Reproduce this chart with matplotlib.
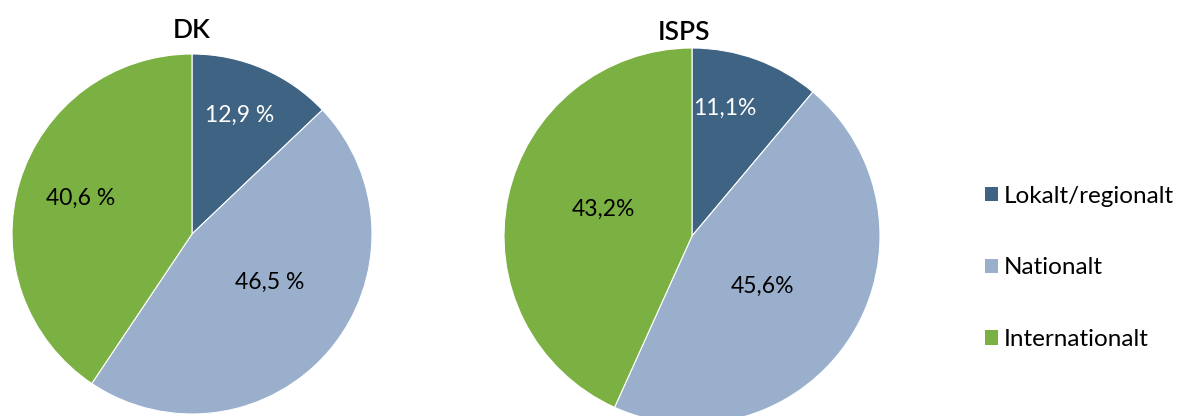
import numpy as np
import matplotlib
matplotlib.use("Agg")
import matplotlib.pyplot as plt
from matplotlib.patches import Patch

plt.rcParams['font.family'] = ['Lato', 'DejaVu Sans']

categories = ["Lokalt/regionalt", "Nationalt", "Internationalt"]
dk_values = [12.9, 46.5, 40.6]
isps_values = [11.1, 45.6, 43.2]
dk_labels = ["12,9 %", "46,5 %", "40,6 %"]
isps_labels = ["11,1%", "45,6%", "43,2%"]
titles = ["DK", "ISPS"]

colors = ["#3F6383", "#99AFCB", "#7BB043"]
label_colors = ["white", "black", "black"]

W, H = 1181, 416
fig = plt.figure(figsize=(W / 100, H / 100), dpi=100)

def add_pie(cx, cy, r, values, labels, title, dists, shifts, title_xy):
    ax = fig.add_axes([(cx - r) / W, (H - cy - r) / H, 2 * r / W, 2 * r / H])
    wedges, _ = ax.pie(values, colors=colors, startangle=90, counterclock=False,
                       wedgeprops=dict(edgecolor="white", linewidth=0.8))
    ax.set_xlim(-1, 1)
    ax.set_ylim(-1, 1)
    ax.set_aspect("equal")
    ax.axis("off")
    for w, lab, d, s, c in zip(wedges, labels, dists, shifts, label_colors):
        ang = np.deg2rad((w.theta1 + w.theta2) / 2 + s)
        ax.text(d * np.cos(ang), d * np.sin(ang), lab, ha="center", va="center",
                fontsize=16.5, color=c)
    fig.text(title_xy[0] / W, 1 - title_xy[1] / H, title, ha="center", va="center",
             fontsize=19, fontweight="semibold")
    return wedges

add_pie(192, 234, 180, dk_values, dk_labels, titles[0],
        [0.71, 0.51, 0.65], [1.5, 8, -1], (192, 30))
add_pie(692, 236, 188, isps_values, isps_labels, titles[1],
        [0.70, 0.46, 0.49], [5.5, -3.5, -4.5], (684, 32))

handles = [Patch(facecolor=c, edgecolor="none") for c in colors]
fig.legend(handles, categories, loc="center left", bbox_to_anchor=(975 / W, 1 - 268 / H),
           frameon=False, fontsize=17.5, handlelength=0.53, handleheight=0.53,
           handletextpad=0.25, labelspacing=2.08, borderaxespad=0)

fig.savefig("out.png", dpi=100, facecolor="white")
